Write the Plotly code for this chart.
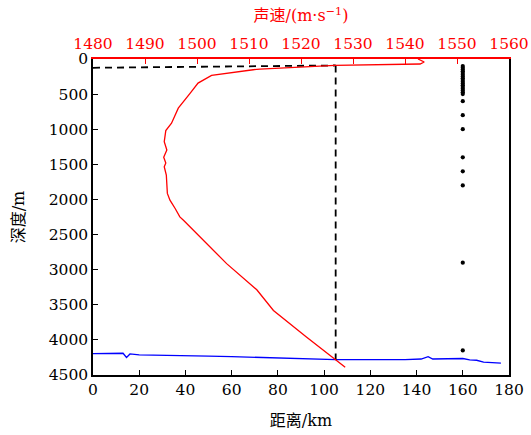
import plotly.graph_objects as go

# Bathymetry (distance km, depth m)
bathy_dist = [0, 5, 10, 13, 14.5, 16, 20, 30, 40, 50, 60, 70, 80, 90, 93, 100, 105, 110,
              120, 125, 130, 135, 142, 145, 147, 150, 157, 160, 163, 166, 169, 172, 176.5]
bathy_depth = [4195, 4195, 4193, 4190, 4250, 4200, 4212, 4222, 4228, 4232, 4238, 4248, 4262,
               4272, 4280, 4280, 4282, 4282, 4284, 4288, 4284, 4280, 4272, 4238, 4272, 4270,
               4262, 4265, 4285, 4290, 4318, 4322, 4332]

# Sound speed profile (m/s, depth m)
ssp_speed = [1542.5, 1543.7, 1542.9, 1526.5, 1512.1, 1510.8, 1502.8, 1500.2, 1498.7, 1496.4,
             1495.1, 1494.0, 1493.7, 1494.2, 1493.6, 1494.0, 1493.7, 1494.1, 1494.3, 1494.8,
             1495.8, 1496.7, 1497.4, 1501.9, 1505.7, 1511.5, 1514.7, 1521.1, 1526.9, 1528.5]
ssp_depth = [0, 43, 71, 91, 143, 153, 234, 343, 486, 700,
             914, 1020, 1177, 1296, 1400, 1480, 1534, 1653, 1914, 2010,
             2129, 2249, 2296, 2629, 2914, 3286, 3581, 3963, 4296, 4391]

# Receiver array at 160 km
array_dist = 160
array_depth = [100, 125, 150, 175, 200, 225, 250, 275, 300, 325, 350, 375, 400, 425, 450,
               475, 500, 600, 800, 1000, 1400, 1600, 1800, 2900, 4150]

# Source geometry (dashed lines)
src_h_dist = [0, 105]
src_h_depth = [125, 92]
src_v_dist = [105, 105]
src_v_depth = [92, 4282]

font_family = "DejaVu Serif, Noto Sans CJK SC, serif"

fig = go.Figure()
fig.add_trace(go.Scatter(x=bathy_dist, y=bathy_depth, mode="lines",
                         line=dict(color="#0000ff", width=1.3), xaxis="x", yaxis="y"))
fig.add_trace(go.Scatter(x=src_h_dist, y=src_h_depth, mode="lines",
                         line=dict(color="black", width=1.8, dash="7px,5px"), xaxis="x", yaxis="y"))
fig.add_trace(go.Scatter(x=src_v_dist, y=src_v_depth, mode="lines",
                         line=dict(color="black", width=1.8, dash="7px,5px"), xaxis="x", yaxis="y"))
fig.add_trace(go.Scatter(x=[array_dist] * len(array_depth), y=array_depth, mode="markers",
                         marker=dict(color="black", size=4.2), xaxis="x", yaxis="y"))
fig.add_trace(go.Scatter(x=ssp_speed, y=ssp_depth, mode="lines",
                         line=dict(color="#ff0000", width=1.3), xaxis="x2", yaxis="y"))

fig.update_layout(
    width=531, height=435,
    margin=dict(l=93, r=22, t=59, b=60),
    paper_bgcolor="white", plot_bgcolor="white",
    showlegend=False,
    font=dict(family=font_family, size=15.5, color="black"),
    xaxis=dict(range=[0, 180], tickvals=list(range(0, 181, 20)), ticks="inside", ticklen=5,
               tickwidth=1.2, tickcolor="black", showline=True, linecolor="black", linewidth=1.5,
               mirror=False, showgrid=False, zeroline=False, automargin=False,
               title=dict(text="距离/km", font=dict(size=16), standoff=16)),
    xaxis2=dict(range=[1480, 1560], tickvals=list(range(1480, 1561, 10)), overlaying="x",
                side="top", anchor="y", ticks="inside", ticklen=5, tickwidth=1.2, tickcolor="#ff0000",
                showline=True, linecolor="#ff0000", linewidth=1.5, showgrid=False, zeroline=False,
                tickfont=dict(color="#ff0000"), ticklabelstandoff=2, automargin=False,
                title=dict(text="声速/(m·s<sup>−1</sup>)", font=dict(size=16, color="#ff0000"), standoff=9)),
    yaxis=dict(range=[4500, 0], tickvals=list(range(0, 4501, 500)), ticks="inside", ticklen=5,
               tickwidth=1.2, tickcolor="black", showline=True, linecolor="black", linewidth=1.5,
               mirror=True, showgrid=False, zeroline=False, automargin=False,
               title=dict(text="深度/m", font=dict(size=16), standoff=20)),
)

fig.write_html("out.html")
